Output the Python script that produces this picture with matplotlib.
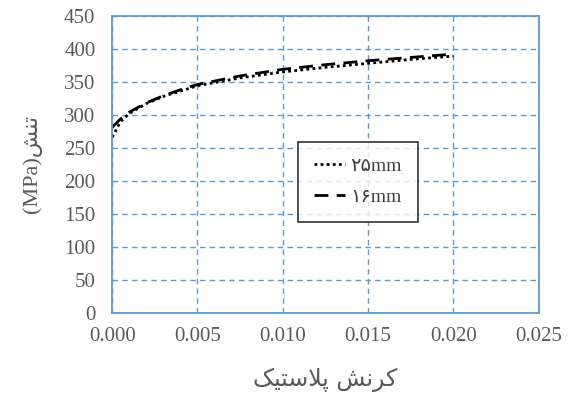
import matplotlib
matplotlib.use("Agg")
import matplotlib.pyplot as plt

# strain values and stress curves
strain = [0.0, 0.0005, 0.001, 0.002, 0.003, 0.004, 0.005, 0.0075, 0.01, 0.0125, 0.015, 0.0175, 0.02]
stress_25 = [266, 290, 302, 317, 328, 336, 344, 356, 365, 372, 378, 384, 389]
stress_16 = [281, 294, 304, 318, 329, 338, 346, 359, 369, 376, 382, 387, 392]
label_25 = "\u06f2\u06f5mm"
label_16 = "\u06f1\u06f6mm"
xticks = [0.0, 0.005, 0.010, 0.015, 0.020, 0.025]
yticks = list(range(0, 451, 50))

# Persian text written in visual order with presentation forms (no shaping in matplotlib)
xlabel = "\ufb8f\ufbff\ufe98\ufeb3\ufefc\ufb58 \ufeb6\ufee7\ufeae\ufb90"
ylabel = "(MPa)\ufeb6\ufee8\ufe97"

plt.rcParams['font.family'] = ['Liberation Serif', 'DejaVu Sans']
blue = '#5b9bd5'
grey = '#595959'

fig = plt.figure(figsize=(5.75, 3.96), dpi=100)
ax = fig.add_axes([0.195, 0.21, 0.742, 0.75])

ax.plot(strain, stress_25, color='black', linestyle=(0, (1, 1.2)), linewidth=2, label=label_25)
ax.plot(strain, stress_16, color='black', linestyle=(0, (5, 3)), linewidth=2, label=label_16)

ax.set_xlim(0, 0.025)
ax.set_ylim(0, 450)
ax.set_xticks(xticks)
ax.set_xticklabels([f"{v:.3f}" for v in xticks])
ax.set_yticks(yticks)
ax.tick_params(length=0, labelsize=15, labelcolor=grey)
ax.tick_params(axis='x', pad=10)
ax.tick_params(axis='y', pad=12)

ax.grid(True, color=blue, linestyle=(0, (4, 3)), linewidth=1)
ax.set_axisbelow(True)
for s in ax.spines.values():
    s.set_color(blue)
    s.set_linewidth(1.3)

ax.set_xlabel(xlabel, fontsize=17, color=grey, labelpad=16, family=['DejaVu Sans'])
ax.set_ylabel(ylabel, fontsize=16, color=grey, labelpad=16, family=['Liberation Serif', 'DejaVu Sans'])

leg = ax.legend(loc='upper left', bbox_to_anchor=(0.436, 0.576), borderaxespad=0, fontsize=14,
                frameon=True, fancybox=False, edgecolor='black', shadow=False,
                handlelength=1.6, borderpad=0.8, labelspacing=0.7, handletextpad=0.3)
leg.get_frame().set_linewidth(1.2)
for t in leg.get_texts():
    t.set_color('#404040')

fig.savefig("out.png", dpi=100)
